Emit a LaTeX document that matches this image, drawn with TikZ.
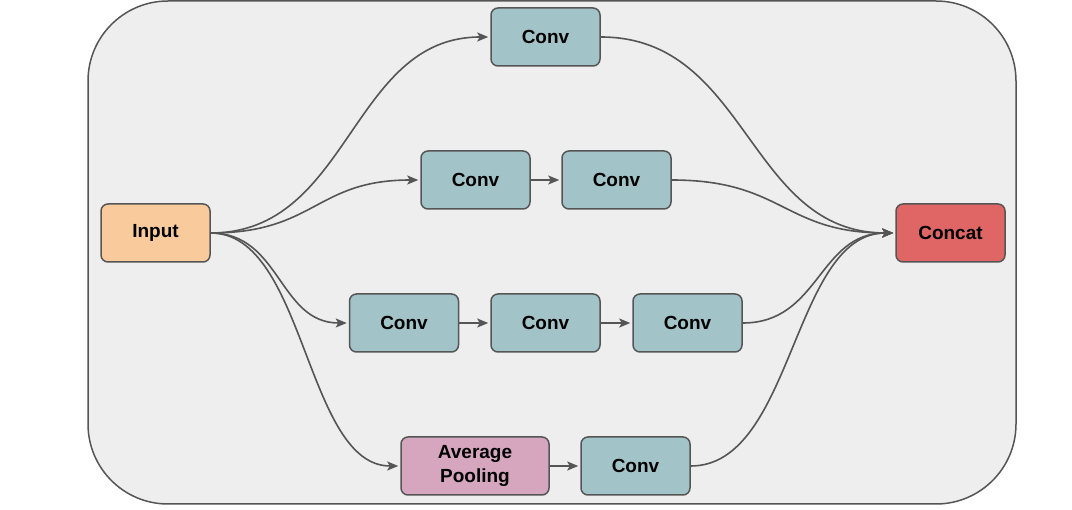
\documentclass[tikz,border=0pt]{standalone}
\usepackage{fontspec}
\setmainfont{Liberation Sans}
\usetikzlibrary{arrows.meta}
\definecolor{bgc}{HTML}{EEEEEE}
\definecolor{linec}{HTML}{555555}
\definecolor{inputc}{HTML}{F9CB9C}
\definecolor{convc}{HTML}{A2C4C9}
\definecolor{concatc}{HTML}{E06666}
\definecolor{poolc}{HTML}{D5A6BD}
\tikzset{
  box/.style={draw=linec, line width=1.5pt, rounded corners=7pt, minimum width=109pt, minimum height=58pt, inner sep=0pt, align=center, font=\fontsize{19}{24}\selectfont\bfseries, text=black},
  convbox/.style={box, fill=convc},
  conn/.style={draw=linec, line width=1.6pt, -{Stealth[length=11pt,width=9pt,inset=2.5pt]}, shorten >=2pt},
}
\begin{document}
\begin{tikzpicture}[x=1pt,y=-1pt]
\useasboundingbox (0,0) rectangle (1072,510);
\draw[fill=bgc, draw=linec, line width=1.5pt, rounded corners=80pt] (88,1) rectangle (1016,504);
\node[box, fill=inputc] (in) at (155.5,233) {Input};
\node[box, fill=concatc] (cat) at (950.5,233) {Concat};
\node[convbox] (a1) at (545.5,37) {Conv};
\node[convbox] (b1) at (475.5,180) {Conv};
\node[convbox] (b2) at (616.5,180) {Conv};
\node[convbox] (c1) at (404,323) {Conv};
\node[convbox] (c2) at (545.5,323) {Conv};
\node[convbox] (c3) at (687.5,323) {Conv};
\node[box, fill=poolc, minimum width=148pt] (d1) at (475,466) {Average\\Pooling};
\node[convbox] (d2) at (635.5,466) {Conv};
% from input
\draw[conn] (in.east) .. controls +(140,0) and +(-140,0) .. (a1.west);
\draw[conn] (in.east) .. controls +(105,0) and +(-105,0) .. (b1.west);
\draw[conn] (in.east) .. controls +(70,0) and +(-70,0) .. (c1.west);
\draw[conn] (in.east) .. controls +(95,0) and +(-95,0) .. (d1.west);
% chains
\draw[conn] (b1.east) -- (b2.west);
\draw[conn] (c1.east) -- (c2.west);
\draw[conn] (c2.east) -- (c3.west);
\draw[conn] (d1.east) -- (d2.west);
% to concat
\draw[conn] (a1.east) .. controls +(148,0) and +(-148,0) .. (cat.west);
\draw[conn] (b2.east) .. controls +(112,0) and +(-112,0) .. (cat.west);
\draw[conn] (c3.east) .. controls +(77,0) and +(-77,0) .. (cat.west);
\draw[conn] (d2.east) .. controls +(103,0) and +(-103,0) .. (cat.west);
\end{tikzpicture}
\end{document}
